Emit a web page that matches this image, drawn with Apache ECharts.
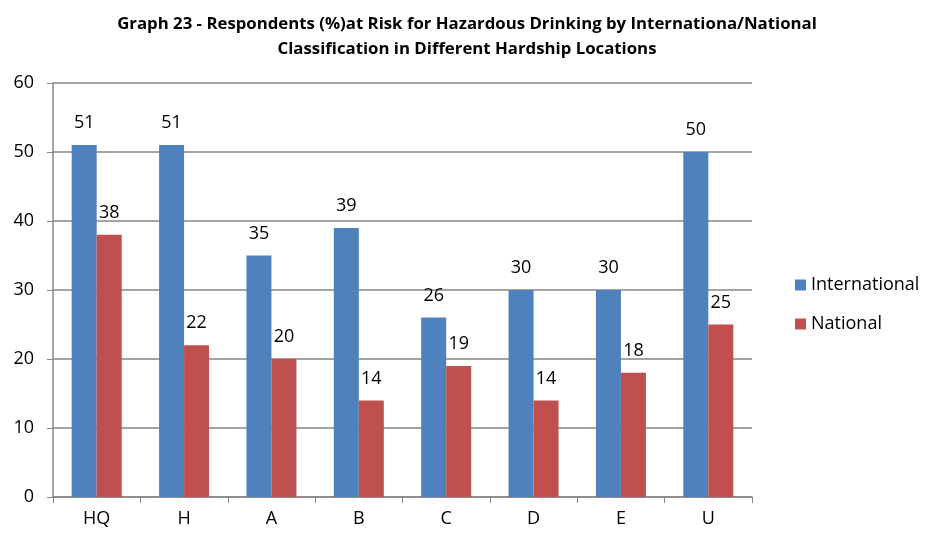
<!DOCTYPE html>
<html>
<head>
<meta charset="utf-8">
<script src="https://cdn.jsdelivr.net/npm/echarts@6/dist/echarts.min.js"></script>
<style>
  html, body { margin: 0; padding: 0; background: #fff; }
  #chart { width: 938px; height: 536px; }
</style>
</head>
<body>
<div id="chart"></div>
<script>
const categories = ['HQ', 'H', 'A', 'B', 'C', 'D', 'E', 'U']
const international = [51, 51, 35, 39, 26, 30, 30, 50]
const national = [38, 22, 20, 14, 19, 14, 18, 25]

const chart = echarts.init(document.getElementById('chart'))

const labelStyle = {
  show: true,
  position: 'top',
  distance: 13,
  color: '#000',
  fontSize: 18,
  fontFamily: 'Open Sans'
}

chart.setOption({
  textStyle: { fontFamily: 'Open Sans' },
  title: {
    text: 'Graph 23 - Respondents (%)at Risk for Hazardous Drinking by Internationa/National\nClassification in Different Hardship Locations',
    left: 462,
    top: 7,
    textAlign: 'center',
    textStyle: {
      fontSize: 16.8,
      fontWeight: 'bold',
      color: '#000',
      lineHeight: 25,
      fontFamily: 'Open Sans'
    }
  },
  legend: {
    orient: 'vertical',
    left: 790,
    top: 271,
    itemWidth: 11,
    itemHeight: 11,
    itemGap: 21,
    icon: 'rect',
    textStyle: { fontSize: 18, color: '#000', fontFamily: 'Open Sans' },
    data: ['International', 'National']
  },
  grid: {
    left: 53,
    right: 186,
    top: 83,
    bottom: 39,
    containLabel: false
  },
  xAxis: {
    type: 'category',
    data: categories,
    axisLine: { lineStyle: { color: '#868686', width: 1.5 } },
    axisTick: { show: true, length: 6, lineStyle: { color: '#868686' } },
    axisLabel: { fontSize: 18, color: '#000', margin: 13 }
  },
  yAxis: {
    type: 'value',
    min: 0,
    max: 60,
    interval: 10,
    axisLine: { show: true, lineStyle: { color: '#868686', width: 1.5 } },
    axisTick: { show: true, length: 6, lineStyle: { color: '#868686' } },
    axisLabel: { fontSize: 18, color: '#000', margin: 19 },
    splitLine: { lineStyle: { color: '#868686', width: 1.5 } }
  },
  series: [
    {
      name: 'International',
      type: 'bar',
      data: international,
      barWidth: 25,
      barGap: '0%',
      itemStyle: { color: '#4f81bd' },
      label: labelStyle
    },
    {
      name: 'National',
      type: 'bar',
      data: national,
      barWidth: 25,
      itemStyle: { color: '#c0504d' },
      label: labelStyle
    }
  ]
})
</script>
</body>
</html>
